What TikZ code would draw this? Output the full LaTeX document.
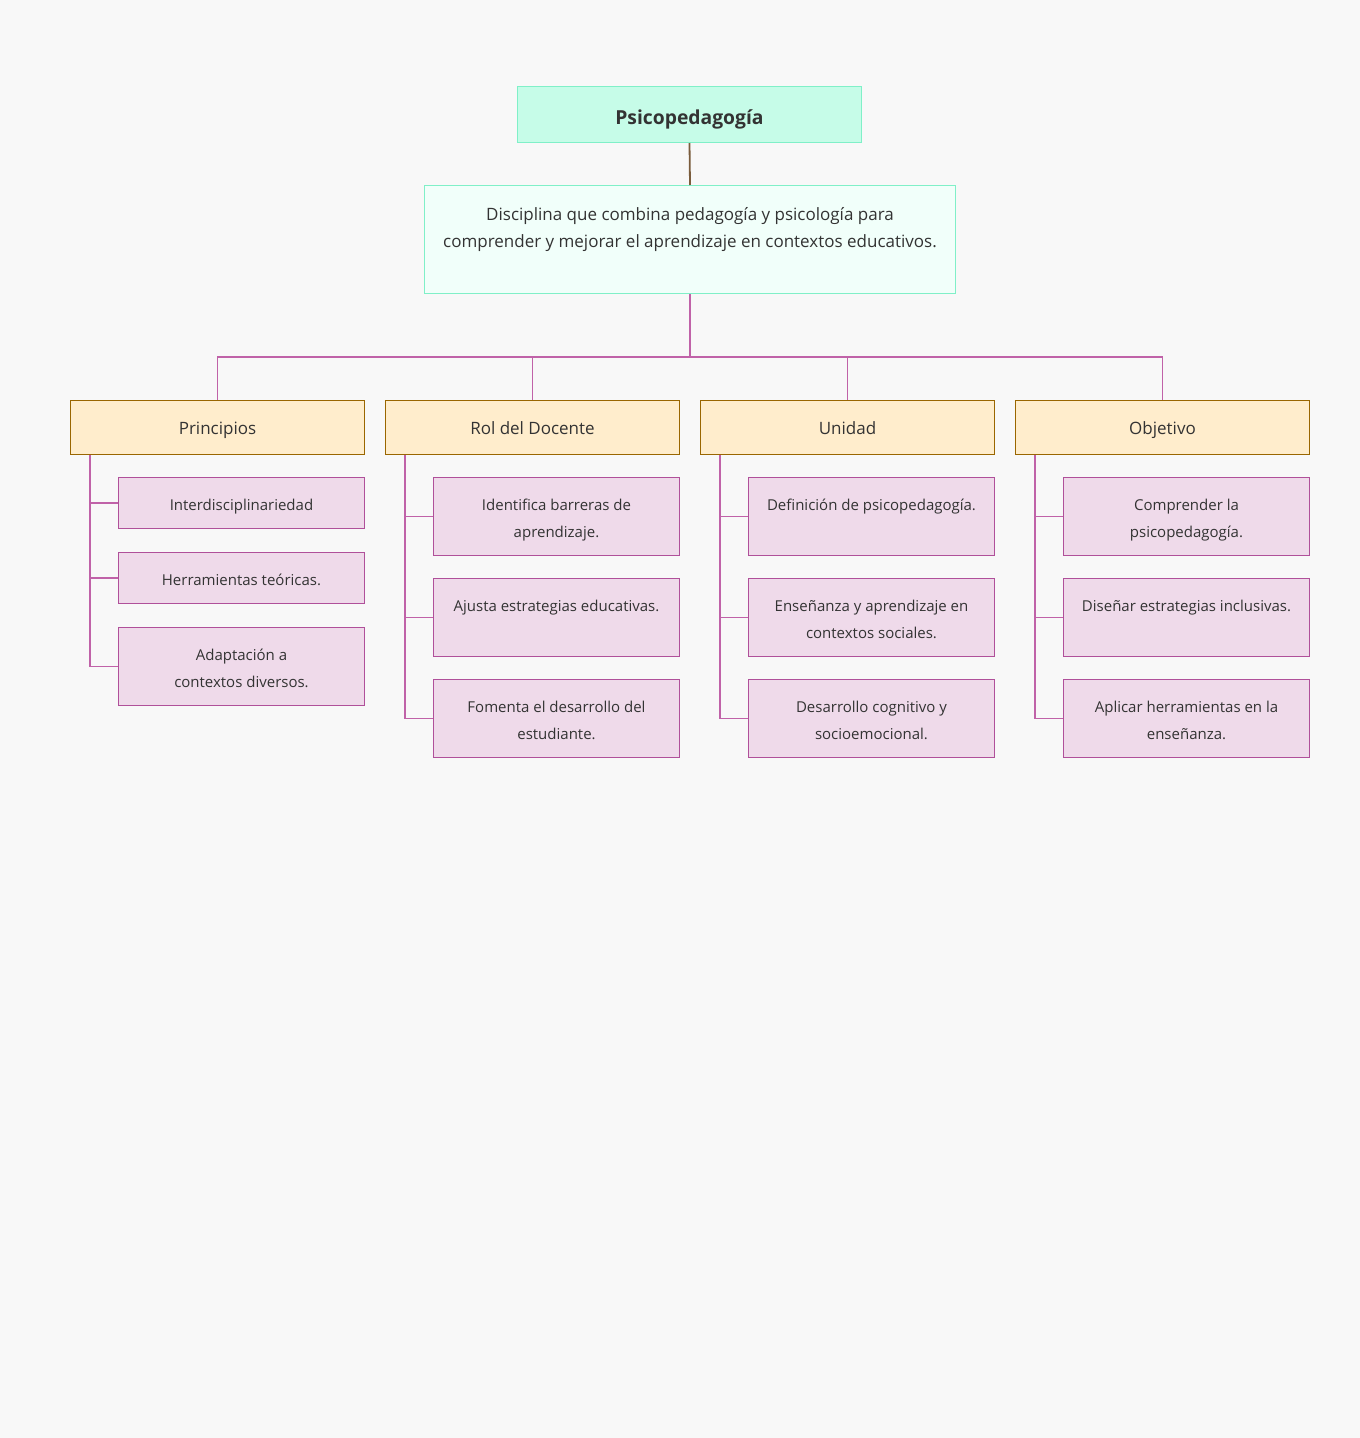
\documentclass[tikz,border=0pt]{standalone}
\usepackage{fontspec}
\setmainfont{Open Sans}
\definecolor{bg}{HTML}{F8F8F8}
\definecolor{titlef}{HTML}{C6FCE8}
\definecolor{titleb}{HTML}{80F0C8}
\definecolor{descf}{HTML}{F1FFFA}
\definecolor{brownl}{HTML}{7A5C3C}
\definecolor{magl}{HTML}{C062A8}
\definecolor{catf}{HTML}{FFEDCC}
\definecolor{catb}{HTML}{9A6600}
\definecolor{leaff}{HTML}{EFDAEA}
\definecolor{leafb}{HTML}{B0509A}
\definecolor{txt}{HTML}{333333}
\tikzset{
  x=1pt, y=-1pt,
  titlebox/.style={draw=titleb, fill=titlef, line width=1pt, minimum width=344, minimum height=56, inner sep=0, text height=20pt, text depth=1pt, anchor=north west, text=txt, font=\fontsize{19.3}{22}\selectfont\bfseries},
  descbox/.style={draw=titleb, fill=descf, line width=1pt, minimum width=531, minimum height=108, inner sep=0, anchor=north west},
  descText/.style={anchor=north, inner sep=0, align=center, text=txt, font=\fontsize{17}{27}\selectfont},
  catbox/.style={draw=catb, fill=catf, line width=1pt, minimum width=294, minimum height=54, inner sep=0, text height=15pt, text depth=2pt, anchor=north west, text=txt, font=\fontsize{17}{20}\selectfont},
  leafbox/.style={draw=leafb, fill=leaff, line width=1pt, minimum width=246, inner sep=0, anchor=north west},
  leafText/.style={anchor=north, inner sep=0, align=center, text=txt, font=\fontsize{15}{27}\selectfont},
  conn/.style={draw=magl, line width=1.8pt},
}
\begin{document}
\begin{tikzpicture}
\useasboundingbox[fill=bg] (0,0) rectangle (1360,1438);
% title and description
\node[titlebox] (title) at (517,86) {Psicopedagogía};
\node[descbox] (desc) at (424,185) {};
\node[descText] (desct) at ([yshift=-16pt]desc.north) {\strut Disciplina que combina pedagogía y psicología para\\\strut comprender y mejorar el aprendizaje en contextos educativos.};
\draw[brownl, line width=1.8pt] (title.south) -- (desc.north);
% categories
\node[catbox] (c1) at (70,400) {Principios};
\node[catbox] (c2) at (385,400) {Rol del Docente};
\node[catbox] (c3) at (700,400) {Unidad};
\node[catbox] (c4) at (1015,400) {Objetivo};
\draw[conn] (desc.south) -- ++(0,63) coordinate (bus);
\draw[conn] (bus) -| (c1.north);
\draw[conn] (bus) -| (c4.north);
\draw[conn] (bus) -| (c2.north);
\draw[conn] (bus) -| (c3.north);
% leaves column 1
\node[leafbox, minimum height=51] (l11) at (118,477) {};
\node[leafbox, minimum height=51] (l12) at (118,552) {};
\node[leafbox, minimum height=78] (l13) at (118,627) {};
% columns 2-4
\node[leafbox, minimum height=78] (l21) at (433,477) {};
\node[leafbox, minimum height=78] (l22) at (433,578) {};
\node[leafbox, minimum height=78] (l23) at (433,679) {};
\node[leafbox, minimum height=78] (l31) at (748,477) {};
\node[leafbox, minimum height=78] (l32) at (748,578) {};
\node[leafbox, minimum height=78] (l33) at (748,679) {};
\node[leafbox, minimum height=78] (l41) at (1063,477) {};
\node[leafbox, minimum height=78] (l42) at (1063,578) {};
\node[leafbox, minimum height=78] (l43) at (1063,679) {};
% leaf texts
\node[leafText] at ([yshift=-14.5pt]l11.north) {\strut Interdisciplinariedad};
\node[leafText] at ([yshift=-14.5pt]l12.north) {\strut Herramientas teóricas.};
\node[leafText] at ([yshift=-14.5pt]l13.north) {\strut Adaptación a\\\strut contextos diversos.};
\node[leafText] at ([yshift=-14.5pt]l21.north) {\strut Identifica barreras de\\\strut aprendizaje.};
\node[leafText] at ([yshift=-14.5pt]l22.north) {\strut Ajusta estrategias educativas.};
\node[leafText] at ([yshift=-14.5pt]l23.north) {\strut Fomenta el desarrollo del\\\strut estudiante.};
\node[leafText] at ([yshift=-14.5pt]l31.north) {\strut Definición de psicopedagogía.};
\node[leafText] at ([yshift=-14.5pt]l32.north) {\strut Enseñanza y aprendizaje en\\\strut contextos sociales.};
\node[leafText] at ([yshift=-14.5pt]l33.north) {\strut Desarrollo cognitivo y\\\strut socioemocional.};
\node[leafText] at ([yshift=-14.5pt]l41.north) {\strut Comprender la\\\strut psicopedagogía.};
\node[leafText] at ([yshift=-14.5pt]l42.north) {\strut Diseñar estrategias inclusivas.};
\node[leafText] at ([yshift=-14.5pt]l43.north) {\strut Aplicar herramientas en la\\\strut enseñanza.};
% elbow connectors
\foreach \c/\a/\b/\d in {c1/l11/l12/l13, c2/l21/l22/l23, c3/l31/l32/l33, c4/l41/l42/l43}{
  \draw[conn] ([xshift=20pt]\c.south west) |- (\d.west);
  \draw[conn] ([xshift=20pt]\c.south west) |- (\a.west);
  \draw[conn] ([xshift=20pt]\c.south west) |- (\b.west);
}
\end{tikzpicture}
\end{document}
